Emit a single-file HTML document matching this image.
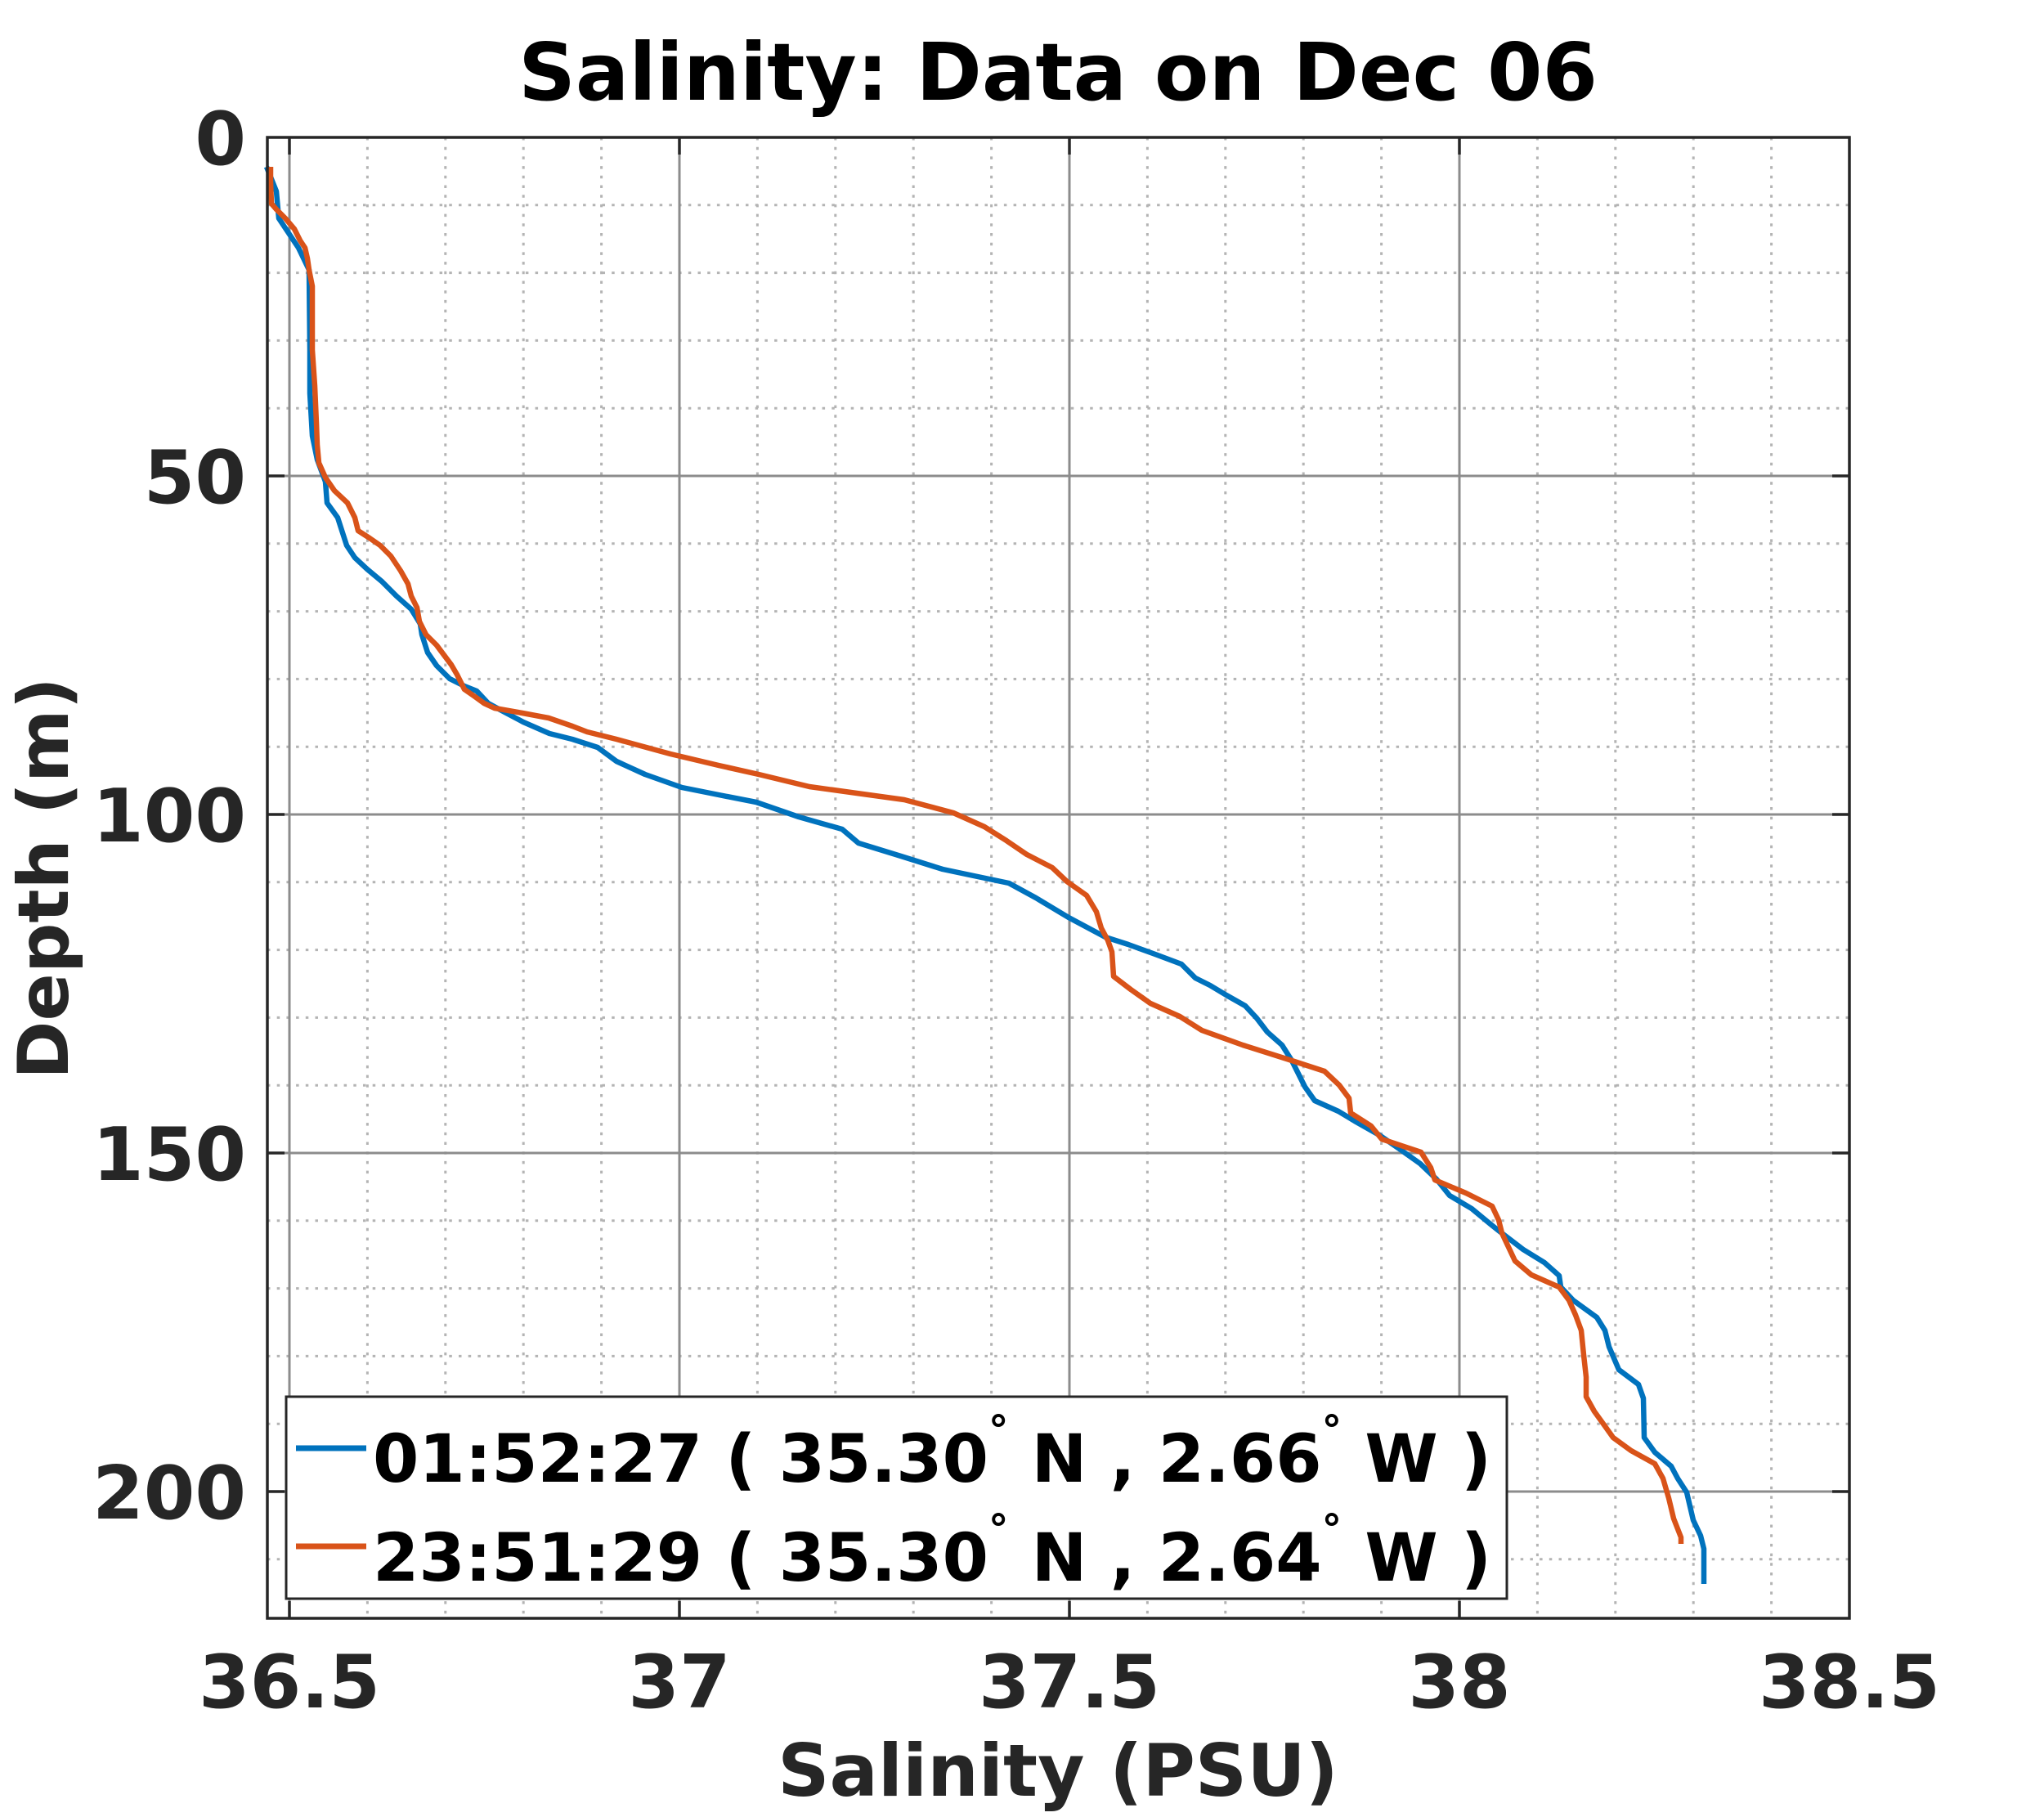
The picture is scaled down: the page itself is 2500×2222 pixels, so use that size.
<!DOCTYPE html>
<html>
<head>
<meta charset="utf-8">
<style>
  html, body { margin: 0; padding: 0; background: #ffffff; }
  svg { display: block; }
  text { font-family: "DejaVu Sans", "Liberation Sans", sans-serif; font-weight: bold; }
</style>
</head>
<body>
<svg width="2500" height="2222" viewBox="0 0 2500 2222" xmlns="http://www.w3.org/2000/svg">
  <rect x="0" y="0" width="2500" height="2222" fill="#ffffff"/>
  <rect x="327" y="168" width="1935" height="1811" fill="#ffffff"/>

  <!-- minor grid (dotted) -->
  <g stroke="#b4b4b4" stroke-width="3" stroke-dasharray="3.5 8.2" fill="none">
    <line x1="449.4" y1="168" x2="449.4" y2="1979"/>
    <line x1="544.8" y1="168" x2="544.8" y2="1979"/>
    <line x1="640.2" y1="168" x2="640.2" y2="1979"/>
    <line x1="735.6" y1="168" x2="735.6" y2="1979"/>
    <line x1="926.4" y1="168" x2="926.4" y2="1979"/>
    <line x1="1021.8" y1="168" x2="1021.8" y2="1979"/>
    <line x1="1117.2" y1="168" x2="1117.2" y2="1979"/>
    <line x1="1212.6" y1="168" x2="1212.6" y2="1979"/>
    <line x1="1403.4" y1="168" x2="1403.4" y2="1979"/>
    <line x1="1498.8" y1="168" x2="1498.8" y2="1979"/>
    <line x1="1594.2" y1="168" x2="1594.2" y2="1979"/>
    <line x1="1689.6" y1="168" x2="1689.6" y2="1979"/>
    <line x1="1880.4" y1="168" x2="1880.4" y2="1979"/>
    <line x1="1975.8" y1="168" x2="1975.8" y2="1979"/>
    <line x1="2071.2" y1="168" x2="2071.2" y2="1979"/>
    <line x1="2166.6" y1="168" x2="2166.6" y2="1979"/>
    <line x1="327" y1="250.8" x2="2262" y2="250.8"/>
    <line x1="327" y1="333.6" x2="2262" y2="333.6"/>
    <line x1="327" y1="416.4" x2="2262" y2="416.4"/>
    <line x1="327" y1="499.2" x2="2262" y2="499.2"/>
    <line x1="327" y1="664.8" x2="2262" y2="664.8"/>
    <line x1="327" y1="747.6" x2="2262" y2="747.6"/>
    <line x1="327" y1="830.4" x2="2262" y2="830.4"/>
    <line x1="327" y1="913.2" x2="2262" y2="913.2"/>
    <line x1="327" y1="1078.8" x2="2262" y2="1078.8"/>
    <line x1="327" y1="1161.6" x2="2262" y2="1161.6"/>
    <line x1="327" y1="1244.4" x2="2262" y2="1244.4"/>
    <line x1="327" y1="1327.2" x2="2262" y2="1327.2"/>
    <line x1="327" y1="1492.8" x2="2262" y2="1492.8"/>
    <line x1="327" y1="1575.6" x2="2262" y2="1575.6"/>
    <line x1="327" y1="1658.4" x2="2262" y2="1658.4"/>
    <line x1="327" y1="1741.2" x2="2262" y2="1741.2"/>
    <line x1="327" y1="1906.8" x2="2262" y2="1906.8"/>
  </g>

  <!-- major grid -->
  <g stroke="#8c8c8c" stroke-width="3" fill="none">
    <line x1="354" y1="168" x2="354" y2="1979"/>
    <line x1="831" y1="168" x2="831" y2="1979"/>
    <line x1="1308" y1="168" x2="1308" y2="1979"/>
    <line x1="1785" y1="168" x2="1785" y2="1979"/>
    <line x1="327" y1="582" x2="2262" y2="582"/>
    <line x1="327" y1="996" x2="2262" y2="996"/>
    <line x1="327" y1="1410" x2="2262" y2="1410"/>
    <line x1="327" y1="1824" x2="2262" y2="1824"/>
  </g>

  <!-- data: blue -->
  <polyline fill="none" stroke="#0072BD" stroke-width="6.5" stroke-linejoin="round" stroke-linecap="butt"
    points="326,204 338,234 341,267 353,285 365,303 378,330 379,428 379,481 382,533 388,562 398,589 400,615 413,633 424,667 434,682 449,696 467,711 485,729 503,745 514,763 516,776 523,798 534,814 550,830 568,839 583,845 597,860 608,866 640,883 672,897 700,904 731,914 754,931 789,947 834,963 879,972 925,981 977,999 1030,1014 1050,1031 1102,1047 1153,1063 1191,1071 1234,1080 1267,1098 1307,1122 1352,1146 1380,1155 1413,1167 1445,1179 1462,1196 1480,1205 1500,1217 1523,1230 1537,1245 1550,1262 1568,1278 1580,1297 1588,1313 1596,1329 1608,1346 1637,1359 1657,1371 1687,1388 1713,1406 1737,1423 1757,1442 1773,1462 1800,1478 1823,1497 1833,1505 1863,1528 1889,1544 1907,1560 1909,1574 1924,1590 1953,1611 1963,1627 1968,1647 1980,1675 2004,1693 2010,1710 2011,1758 2024,1776 2044,1793 2052,1808 2063,1825 2071,1859 2080,1878 2084,1894 2084,1937"/>

  <!-- data: orange -->
  <polyline fill="none" stroke="#D95319" stroke-width="6.5" stroke-linejoin="round" stroke-linecap="butt"
    points="331,204 331,222 332,249 338,256 349,267 360,280 367,294 373,303 376,316 378,330 382,350 382,383 382,428 385,472 387,517 388,544 390,566 398,584 409,600 425,615 434,633 438,649 452,658 465,667 478,680 490,698 499,714 503,729 510,743 513,760 521,776 534,789 543,801 552,813 559,825 568,843 581,852 592,860 605,866 639,872 671,878 700,888 718,895 754,904 820,922 879,936 928,947 990,962 1048,970 1106,978 1166,994 1204,1011 1231,1028 1256,1045 1287,1061 1305,1078 1329,1095 1341,1115 1347,1135 1355,1150 1360,1164 1362,1194 1383,1210 1407,1227 1443,1243 1470,1260 1520,1278 1577,1296 1620,1310 1638,1327 1650,1343 1652,1361 1677,1377 1690,1393 1738,1409 1750,1428 1755,1443 1793,1459 1825,1475 1833,1492 1837,1508 1845,1525 1853,1542 1873,1559 1907,1574 1919,1590 1927,1608 1934,1627 1937,1657 1940,1684 1940,1708 1950,1726 1963,1744 1973,1758 1995,1774 2024,1790 2034,1808 2041,1832 2047,1857 2056,1880 2056,1888"/>

  <!-- ticks -->
  <g stroke="#262626" stroke-width="3.5" fill="none">
    <line x1="354" y1="1979" x2="354" y2="1958"/>
    <line x1="831" y1="1979" x2="831" y2="1958"/>
    <line x1="1308" y1="1979" x2="1308" y2="1958"/>
    <line x1="1785" y1="1979" x2="1785" y2="1958"/>
    <line x1="354" y1="168" x2="354" y2="189"/>
    <line x1="831" y1="168" x2="831" y2="189"/>
    <line x1="1308" y1="168" x2="1308" y2="189"/>
    <line x1="1785" y1="168" x2="1785" y2="189"/>
    <line x1="327" y1="582" x2="348" y2="582"/>
    <line x1="327" y1="996" x2="348" y2="996"/>
    <line x1="327" y1="1410" x2="348" y2="1410"/>
    <line x1="327" y1="1824" x2="348" y2="1824"/>
    <line x1="2262" y1="582" x2="2241" y2="582"/>
    <line x1="2262" y1="996" x2="2241" y2="996"/>
    <line x1="2262" y1="1410" x2="2241" y2="1410"/>
    <line x1="2262" y1="1824" x2="2241" y2="1824"/>
  </g>

  <!-- axes box -->
  <rect x="327" y="168" width="1935" height="1811" fill="none" stroke="#262626" stroke-width="3.5"/>

  <!-- legend -->
  <rect x="350" y="1708" width="1493" height="247" fill="#ffffff" stroke="#262626" stroke-width="3"/>
  <line x1="362" y1="1771" x2="448" y2="1771" stroke="#0072BD" stroke-width="7"/>
  <line x1="362" y1="1891" x2="448" y2="1891" stroke="#D95319" stroke-width="7"/>
  <text x="456" y="1812" font-size="81" fill="#000000" textLength="1368" lengthAdjust="spacing">01:52:27 ( 35.30<tspan font-size="49" dy="-46">°</tspan><tspan dy="46"> N , 2.66</tspan><tspan font-size="49" dy="-46">°</tspan><tspan dy="46"> W )</tspan></text>
  <text x="456" y="1933" font-size="81" fill="#000000" textLength="1368" lengthAdjust="spacing">23:51:29 ( 35.30<tspan font-size="49" dy="-46">°</tspan><tspan dy="46"> N , 2.64</tspan><tspan font-size="49" dy="-46">°</tspan><tspan dy="46"> W )</tspan></text>

  <!-- x tick labels -->
  <g font-size="90" fill="#262626" text-anchor="middle">
    <text x="354" y="2088">36.5</text>
    <text x="831" y="2088">37</text>
    <text x="1308" y="2088">37.5</text>
    <text x="1785" y="2088">38</text>
    <text x="2262" y="2088">38.5</text>
  </g>

  <!-- y tick labels -->
  <g font-size="90" fill="#262626" text-anchor="end">
    <text x="301" y="201">0</text>
    <text x="301" y="615">50</text>
    <text x="301" y="1029">100</text>
    <text x="301" y="1443">150</text>
    <text x="301" y="1857">200</text>
  </g>

  <!-- axis labels -->
  <text x="1294" y="2196" font-size="88" fill="#262626" text-anchor="middle">Salinity (PSU)</text>
  <text transform="translate(83,1074) rotate(-90)" font-size="86" fill="#262626" text-anchor="middle">Depth (m)</text>

  <!-- title -->
  <text x="1294" y="122" font-size="97" fill="#000000" text-anchor="middle">Salinity: Data on Dec 06</text>
</svg>
</body>
</html>
